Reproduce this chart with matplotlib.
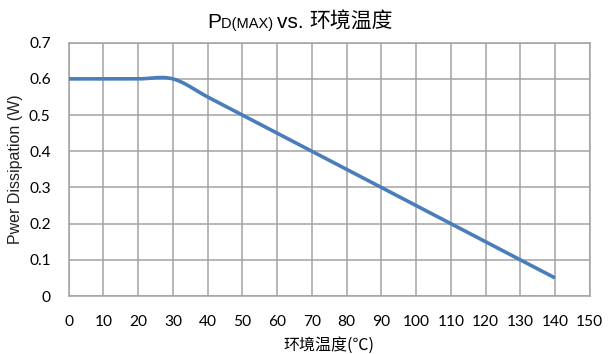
import numpy as np
import matplotlib
matplotlib.use("Agg")
import matplotlib.pyplot as plt

# derating curve: ambient temperature (C) vs max power dissipation (W)
temps = [0, 10, 20, 30, 40, 50, 60, 70, 80, 90, 100, 110, 120, 130, 140]
power = [0.6, 0.6, 0.6, 0.6, 0.55, 0.5, 0.45, 0.4, 0.35, 0.3, 0.25, 0.2, 0.15, 0.1, 0.05]

x_ticks = list(range(0, 151, 10))
y_ticks = [0, 0.1, 0.2, 0.3, 0.4, 0.5, 0.6, 0.7]
y_tick_labels = ["0", "0.1", "0.2", "0.3", "0.4", "0.5", "0.6", "0.7"]


def smooth(xs, ys, n=40):
    # Catmull-Rom spline through the points, like a spreadsheet "smoothed line"
    p = np.column_stack([xs, ys]).astype(float)
    p = np.vstack([p[0], p, p[-1]])
    out = []
    t = np.linspace(0, 1, n)[:, None]
    for i in range(1, len(p) - 2):
        p0, p1, p2, p3 = p[i - 1], p[i], p[i + 1], p[i + 2]
        m1 = (p2 - p0) / 2
        m2 = (p3 - p1) / 2
        h00 = 2 * t**3 - 3 * t**2 + 1
        h10 = t**3 - 2 * t**2 + t
        h01 = -2 * t**3 + 3 * t**2
        h11 = t**3 - t**2
        out.append(h00 * p1 + h10 * m1 + h01 * p2 + h11 * m2)
    c = np.vstack(out)
    return c[:, 0], c[:, 1]


grid_col = "#a3a3a3"
line_col = "#4a7ebb"
cjk = ["Noto Sans CJK SC", "DejaVu Sans"]

fig = plt.figure(figsize=(6.08, 3.54), dpi=100)
ax = fig.add_axes([0.113, 0.1638, 0.857, 0.7156])

sx, sy = smooth(temps, power)
ax.plot(sx, sy, color=line_col, lw=2.6, solid_capstyle="butt", zorder=3)

ax.set_xlim(0, 150)
ax.set_ylim(0, 0.7)
ax.set_xticks(x_ticks)
ax.set_yticks(y_ticks)
ax.set_yticklabels(y_tick_labels)
ax.grid(True, color=grid_col, lw=1.1)
ax.set_axisbelow(True)
for s in ax.spines.values():
    s.set_color(grid_col)
    s.set_linewidth(1.1)
ax.tick_params(length=0, labelsize=11.2, colors="black")
ax.tick_params(axis="x", pad=14)
ax.tick_params(axis="y", pad=13)
for lab in ax.get_xticklabels() + ax.get_yticklabels():
    lab.set_family("Lato")

ax.set_ylabel("Pwer Dissipation (W)", family="Liberation Sans", fontsize=11.5,
              color="#202020", labelpad=4)
ax.set_xlabel("环境温度(℃)", family=cjk, fontsize=11.5, labelpad=5)

# title pieces laid out one after another, "D(MAX)" in a smaller size
renderer = fig.canvas.get_renderer()
pieces = [("P", "Liberation Sans", 15), ("D(MAX) ", "Liberation Sans", 10.5),
          ("vs. ", "Liberation Sans", 15), ("环境温度", cjk, 15)]
x = 207
for s, fam, size in pieces:
    t = fig.text(x / 608, 1 - 28 / 354, s, family=fam, fontsize=size, va="baseline")
    x = t.get_window_extent(renderer).x1

fig.savefig("out.png", dpi=100)
